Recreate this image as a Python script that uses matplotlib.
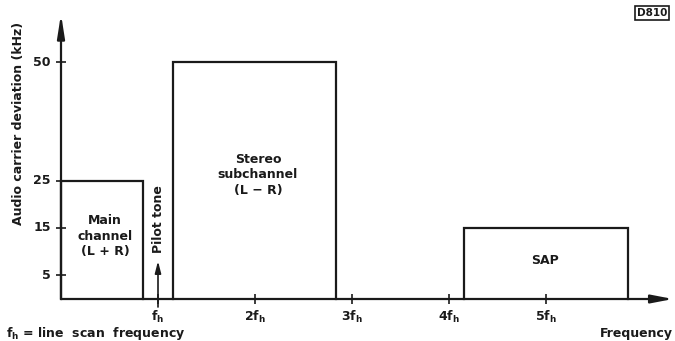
import matplotlib
matplotlib.use("Agg")
import matplotlib.pyplot as plt

# Data (frequency in multiples of f_h, deviation in kHz)
band_names = ["Main\nchannel\n(L + R)", "Stereo\nsubchannel\n(L \u2212 R)", "SAP"]
band_start = [0.0, 1.15, 4.15]
band_end = [0.85, 2.84, 5.85]
band_height = [25, 50, 15]
pilot_freq = 1.0
pilot_height = 8
y_ticks = [5, 15, 25, 50]
x_ticks = [1, 2, 3, 4, 5]
x_tick_labels = ["f$_\\mathregular{h}$", "2f$_\\mathregular{h}$", "3f$_\\mathregular{h}$",
                 "4f$_\\mathregular{h}$", "5f$_\\mathregular{h}$"]

W, H = 675, 341
fig = plt.figure(figsize=(W / 100, H / 100), dpi=100)
ax = fig.add_axes([0, 0, 1, 1])
ax.axis("off")

# pixel -> data mapping: x0 px = 61, 97 px per f_h ; y0 px = 299, 4.74 px per kHz
px_x0, px_fh = 61, 97
px_y0, px_k = 299, 4.74
ax.set_xlim((0 - px_x0) / px_fh, (W - px_x0) / px_fh)
ax.set_ylim((px_y0 - H) / px_k, (px_y0 - 0) / px_k)

def dx(px):
    return px / px_fh

def dy(px):
    return px / px_k

lw = 1.6
col = "#1a1a1a"
fw = "bold"
fs = 9

# axes with arrows
x_end = (673 - px_x0) / px_fh
y_end = (px_y0 - 14) / px_k
ax.annotate("", xy=(x_end, 0), xytext=(0, 0),
            arrowprops=dict(arrowstyle="-|>,head_length=1.3,head_width=0.25", lw=lw, color=col,
                            shrinkA=0, shrinkB=0))
ax.annotate("", xy=(0, y_end), xytext=(0, 0),
            arrowprops=dict(arrowstyle="-|>,head_length=1.4,head_width=0.22", lw=lw, color=col,
                            shrinkA=0, shrinkB=0))

# y ticks
for v in y_ticks:
    ax.plot([-dx(5), dx(5)], [v, v], color=col, lw=1.2, solid_capstyle="butt")
    ax.text(-dx(10), v, str(v), ha="right", va="center", fontsize=fs, fontweight=fw, color=col)

# x ticks
for v, lab in zip(x_ticks, x_tick_labels):
    ax.plot([v, v], [-dy(5), dy(5)], color=col, lw=1.2, solid_capstyle="butt")
    ax.text(v, -dy(10), lab, ha="center", va="top", fontsize=fs, fontweight=fw, color=col)

# bands
for name, s, e, h in zip(band_names, band_start, band_end, band_height):
    ax.plot([s, s, e, e], [0, h, h, 0], color=col, lw=lw, solid_joinstyle="miter")

ax.text(dx(105 - px_x0), (px_y0 - 236) / px_k, band_names[0], ha="center", va="center",
        fontsize=fs, fontweight=fw, color=col, linespacing=1.2)
ax.text(dx(258 - px_x0), (px_y0 - 175) / px_k, band_names[1], ha="center", va="center",
        fontsize=fs, fontweight=fw, color=col, linespacing=1.25)
ax.text(dx(545 - px_x0), (px_y0 - 260) / px_k, band_names[2], ha="center", va="center",
        fontsize=fs, fontweight=fw, color=col)

# pilot tone
ax.annotate("", xy=(pilot_freq, pilot_height), xytext=(pilot_freq, -dy(8)),
            arrowprops=dict(arrowstyle="-|>,head_length=0.7,head_width=0.18", lw=1.2, color=col,
                            shrinkA=0, shrinkB=0))
ax.text(pilot_freq, (px_y0 - 219) / px_k, "Pilot tone", rotation=90, ha="center", va="center",
        fontsize=fs, fontweight=fw, color=col)

# axis labels
ax.text(dx(19 - px_x0), (px_y0 - 123) / px_k, "Audio carrier deviation (kHz)", rotation=90,
        ha="center", va="center", fontsize=fs, fontweight=fw, color=col)
ax.text(dx(673 - px_x0), (px_y0 - 333) / px_k, "Frequency", ha="right", va="center",
        fontsize=fs, fontweight=fw, color=col)
ax.text(dx(6 - px_x0), (px_y0 - 333) / px_k, "f$_\\mathregular{h}$ = line  scan  frequency",
        ha="left", va="center", fontsize=fs, fontweight=fw, color=col)

# figure id box
ax.text(dx(652 - px_x0), (px_y0 - 13) / px_k, "D810", ha="center", va="center",
        fontsize=7.5, fontweight=fw, color=col,
        bbox=dict(boxstyle="square,pad=0.15", fc="white", ec=col, lw=1.2))

fig.savefig("out.png", dpi=100)
